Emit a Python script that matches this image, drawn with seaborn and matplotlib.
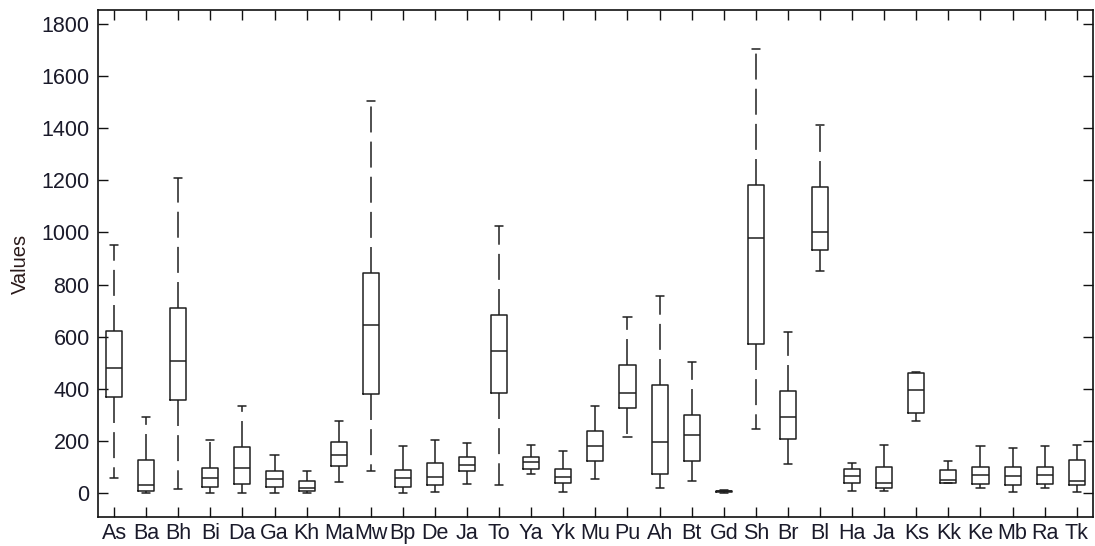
import numpy as np
import pandas as pd
import seaborn as sns
import matplotlib
matplotlib.use("Agg")
import matplotlib.pyplot as plt

# category labels (note "Ja" appears twice)
labels = ["As", "Ba", "Bh", "Bi", "Da", "Ga", "Kh", "Ma", "Mw", "Bp", "De",
          "Ja", "To", "Ya", "Yk", "Mu", "Pu", "Ah", "Bt", "Gd", "Sh", "Br",
          "Bl", "Ha", "Ja", "Ks", "Kk", "Ke", "Mb", "Ra", "Tk"]

# five-number summaries
whisker_low = [59, 0, 15, 0, 0, 0, 0, 42, 86, 0, 5,
               36, 32, 74, 4, 54, 214, 21, 48, 2, 245, 112,
               851, 10, 10, 278, 38, 22, 5, 22, 5]
q1 = [370, 10, 357, 26, 36, 26, 10, 106, 379, 26, 31,
      84, 384, 94, 41, 122, 326, 74, 122, 5, 571, 207,
      931, 41, 22, 309, 40, 36, 31, 37, 31]
median = [482, 32, 507, 59, 96, 55, 22, 148, 647, 59, 64,
          107, 545, 121, 64, 181, 384, 198, 225, 7, 977, 293,
          1000, 65, 41, 395, 50, 69, 66, 69, 47]
q3 = [624, 128, 710, 96, 176, 85, 48, 198, 843, 90, 117,
      138, 683, 138, 94, 238, 491, 415, 299, 9, 1180, 394,
      1174, 94, 101, 461, 90, 101, 101, 101, 127]
whisker_high = [953, 294, 1208, 203, 336, 148, 85, 277, 1504, 181, 206,
                192, 1024, 186, 164, 336, 674, 758, 505, 12, 1703, 618,
                1413, 116, 186, 465, 122, 181, 175, 181, 186]

# long table: each group holds its five summary points, so the
# box statistics computed by seaborn land exactly on them
keys = [str(i) for i in range(len(labels))]
rows = []
for i, k in enumerate(keys):
    for v in (whisker_low[i], q1[i], median[i], q3[i], whisker_high[i]):
        rows.append({"group": k, "value": v})
df = pd.DataFrame(rows)

sns.set_style("ticks")
plt.rcParams["font.family"] = ["Liberation Sans", "DejaVu Sans"]

fig = plt.figure(figsize=(10.95, 5.46), dpi=100)
ax = fig.add_axes([0.0895, 0.053, 0.9085, 0.929])

line_col = "#1f1f1f"
sns.boxplot(data=df, x="group", y="value", order=keys, ax=ax,
            whis=(0, 100), showfliers=False, width=0.5, fill=False,
            color=line_col, linewidth=1.1,
            whiskerprops={"linestyle": (0, (17, 6))},
            capprops={"linestyle": "-"},
            medianprops={"color": line_col})

ax.set_xlim(-0.5, len(labels) - 0.5)
ax.set_ylim(-91, 1853)
ax.set_yticks(np.arange(0, 1801, 200))
ax.set_xticks(range(len(labels)))
ax.set_xticklabels(labels)
ax.set_xlabel("")
ax.set_ylabel("Values", fontsize=14.5, color="#2a1a1a", labelpad=8)

ax.tick_params(axis="both", direction="in", length=7.5, width=1.0,
               top=True, right=True, colors="#111111", labelcolor="#1a1a2a")
ax.tick_params(axis="x", labelsize=15.5, pad=4)
ax.tick_params(axis="y", labelsize=15.5, pad=6)
for s in ax.spines.values():
    s.set_visible(True)
    s.set_linewidth(1.2)
    s.set_color("#111111")

fig.savefig("out.png", dpi=100)
